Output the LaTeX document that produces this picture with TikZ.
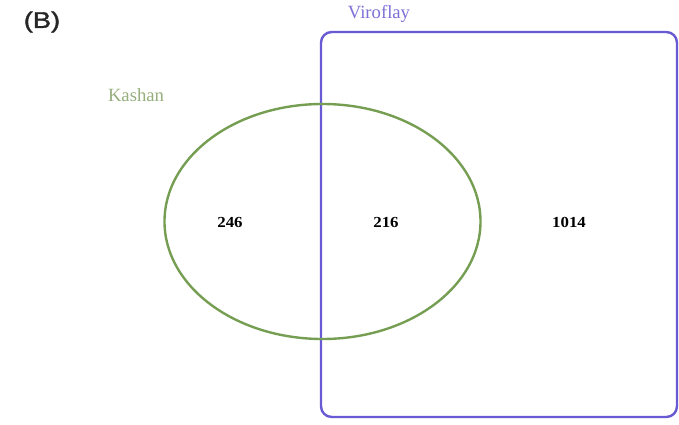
\documentclass[tikz,border=0pt]{standalone}
\usepackage{fontspec}
\setmainfont{Liberation Serif}
\setsansfont{Liberation Sans}
\definecolor{kgreen}{RGB}{118,158,82}
\definecolor{ktext}{RGB}{150,175,125}
\definecolor{vblue}{RGB}{104,90,210}
\definecolor{vtext}{RGB}{125,112,215}
\tikzset{
  lbl/.style={font=\fontsize{14}{16}\selectfont},
  num/.style={font=\bfseries\fontsize{11.5}{13}\selectfont,xscale=1.1},
}
\begin{document}
\begin{tikzpicture}[x=0.75pt,y=-0.75pt]
\useasboundingbox (0,0) rectangle (679,425);
\node[font=\sffamily\fontsize{17}{19}\selectfont,xscale=1.2,text=black!85] (title) at (42,22) {\addfontfeature{FakeBold=1.5}(B)};
\draw[vblue,line width=1.8pt,rounded corners=8pt] (321,32) rectangle (677,417);
\draw[kgreen,line width=1.8pt] (322.5,221.5) ellipse [x radius=158, y radius=117.5];
\node[lbl,text=ktext] (kashan) at (136,95) {Kashan};
\node[lbl,text=vtext] (viroflay) at (379,14) {Viroflay};
\node[num] (a) at (230,222) {246};
\node[num] (b) at (386,222) {216};
\node[num] (c) at (569,222) {1014};
\end{tikzpicture}
\end{document}
